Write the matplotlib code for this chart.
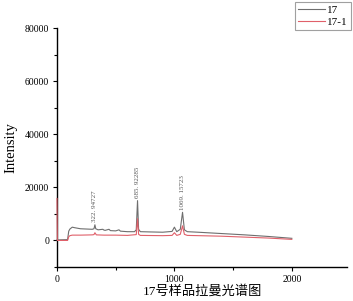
import matplotlib
matplotlib.use("Agg")
import matplotlib.pyplot as plt
from matplotlib.ticker import MultipleLocator

# Raman shift (cm^-1) sample points and intensities
shift_17 = [0, 90, 100, 110, 130, 150, 200, 250, 300, 315, 322.9, 330, 350, 390, 400, 410,
            443, 455, 500, 528, 540, 600, 660, 675, 685.9, 695, 710, 800, 900, 980, 1000,
            1020, 1050, 1069.2, 1085, 1110, 1200, 1400, 1600, 1800, 2000]
int_17 = [200, 300, 3500, 4300, 5000, 4800, 4400, 4300, 4200, 4400, 5900, 4400, 4000, 4200, 3900, 3800,
          4200, 3700, 3600, 4000, 3500, 3300, 3300, 4000, 15000, 4200, 3300, 3200, 3100, 3400, 5000,
          3300, 4200, 10600, 4000, 3300, 3100, 2600, 2100, 1500, 800]

shift_171 = [0, 3, 90, 100, 110, 130, 200, 300, 315, 322.9, 335, 400, 500, 600, 675, 685.9, 695,
             710, 900, 980, 1000, 1020, 1050, 1069.2, 1085, 1110, 1400, 1800, 2000]
int_171 = [15800, 0, 0, 1400, 1800, 2000, 2000, 2100, 2200, 2900, 2100, 2000, 2000, 1900, 2200, 8200, 2300,
           1900, 1800, 1900, 2900, 1900, 2300, 5500, 2300, 1900, 1600, 900, 400]

peak_x = [322.94727, 685.92285, 1069.15723]
peak_top = [5900, 15000, 10600]
peak_labels = ["322. 94727", "685. 92285", "1069. 15723"]

legend_names = ["17", "17-1"]
xlabel_text = "17号样品拉曼光谱图"
ylabel_text = "Intensity"

serif = ["Liberation Serif", "DejaVu Serif"]
cjk = ["Liberation Serif", "Noto Sans CJK SC", "DejaVu Sans"]

fig = plt.figure(figsize=(3.53, 3.01), dpi=100)
ax = fig.add_axes([57/353, 1 - 267/301, (347 - 57)/353, (267 - 28)/301])

ax.plot(shift_17, int_17, color="#6e6e6e", lw=0.8, label=legend_names[0], zorder=3, clip_on=False)
ax.plot(shift_171, int_171, color="#e0606a", lw=0.8, label=legend_names[1], zorder=3, clip_on=False)

for px, pt, lab in zip(peak_x, peak_top, peak_labels):
    ax.annotate(lab, xy=(px, pt), xytext=(0, 2), textcoords="offset points",
                rotation=90, ha="center", va="bottom", fontsize=5,
                color="#555555", family=serif)

ax.set_xlim(0, 2470)
ax.set_ylim(-10000, 80000)
ax.xaxis.set_major_locator(MultipleLocator(1000))
ax.xaxis.set_minor_locator(MultipleLocator(500))
ax.yaxis.set_major_locator(MultipleLocator(20000))
ax.yaxis.set_minor_locator(MultipleLocator(10000))
ax.set_yticks([0, 20000, 40000, 60000, 80000])

for s in ["top", "right"]:
    ax.spines[s].set_visible(False)
for s in ["left", "bottom"]:
    ax.spines[s].set_linewidth(1.0)

ax.tick_params(which="major", direction="out", length=3, width=0.8, labelsize=7, pad=2.5)
ax.tick_params(which="minor", direction="out", length=2, width=0.8)
for t in ax.get_xticklabels() + ax.get_yticklabels():
    t.set_family(serif)

ax.set_xlabel(xlabel_text, family=cjk, fontsize=9.5, labelpad=1)
ax.set_ylabel(ylabel_text, family=serif, fontsize=10.5, labelpad=5)

leg = fig.legend(loc="upper right", bbox_to_anchor=(351/353, 1 - 2/301),
                 prop={"family": serif, "size": 8}, frameon=True, fancybox=False,
                 edgecolor="#888888", handlelength=2.4, handletextpad=0.2,
                 borderpad=0.3, labelspacing=0.2, borderaxespad=0)
leg.get_frame().set_linewidth(0.8)

fig.savefig("out.png", dpi=100)
